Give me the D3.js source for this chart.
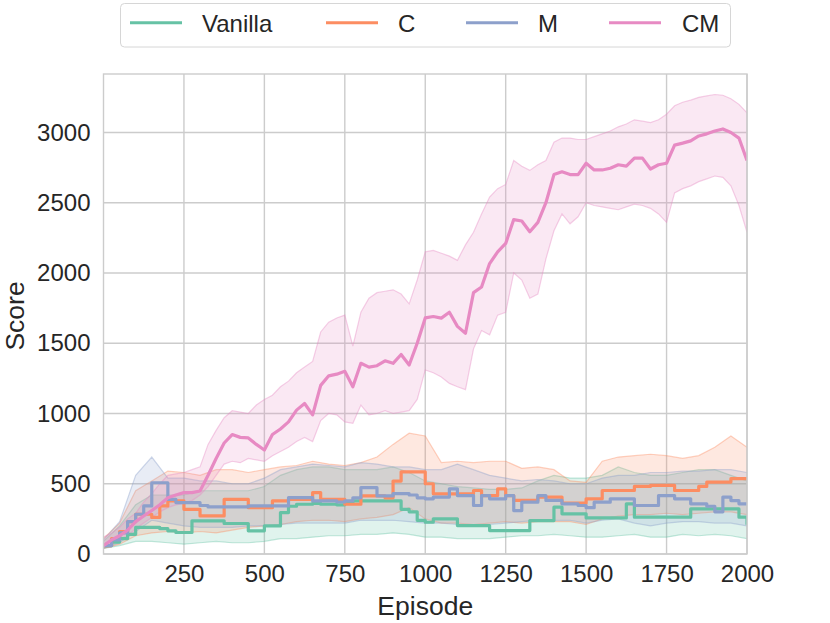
<!DOCTYPE html>
<html>
<head>
<meta charset="utf-8">
<script src="https://cdn.jsdelivr.net/npm/d3@7"></script>
<style>
  html, body { margin: 0; padding: 0; background: #ffffff; }
  svg { display: block; font-family: "Liberation Sans", Arial, sans-serif; }
</style>
</head>
<body>
<svg id="chart" width="830" height="623"></svg>
<script>
// ---------------- DATA ----------------
const seriesNames = ["Vanilla", "C", "M", "CM"];
const xTicks = [250, 500, 750, 1000, 1250, 1500, 1750, 2000];
const yTicks = [0, 500, 1000, 1500, 2000, 2500, 3000];

// episodes for mean lines (every 25)
const episodes = d3.range(0, 2001, 25);
// episodes for Vanilla / C / M bands (every 50)
const bandEpisodes = d3.range(0, 2001, 50);

const vanillaMean = [60,85,110,140,189,189,189,180,165,153,153,236,236,236,236,217,217,217,165,165,
  200,200,295,340,354,354,360,354,354,350,360,378,378,378,378,378,378,318,300,240,
  226,250,250,250,202,202,202,202,167,167,167,167,167,238,238,238,333,286,286,286,
  257,257,257,257,257,357,262,262,262,262,262,262,262,321,321,321,321,321,321,262,209];
const cMean = [60,110,160,230,283,283,260,342,378,378,318,318,271,271,271,389,389,389,330,330,
  330,378,378,389,389,389,437,389,389,389,354,354,413,413,413,400,519,585,585,585,
  500,428,428,428,428,428,452,416,416,464,416,381,381,381,405,405,405,362,362,362,
  393,393,452,452,452,452,481,481,488,488,488,452,452,452,481,512,512,512,536,536,536];
const mMean = [60,100,150,230,283,342,507,507,389,366,366,366,345,335,335,335,335,335,342,342,
  342,342,342,401,401,401,378,378,378,370,378,400,472,472,413,413,430,430,420,400,
  393,405,405,464,416,416,345,416,393,393,416,309,369,369,416,381,381,357,357,345,
  330,369,369,393,393,393,345,345,345,416,416,393,393,357,357,340,300,405,380,357,357];
const cmMean = [60,100,130,170,230,270,310,350,400,420,437,437,448,560,680,790,850,830,826,780,
  740,850,890,940,1024,1071,990,1200,1268,1280,1300,1190,1357,1330,1340,1375,1357,1420,1345,1500,
  1680,1690,1679,1720,1620,1571,1860,1900,2067,2150,2210,2380,2370,2293,2360,2500,2700,2720,2700,2700,
  2781,2733,2733,2745,2770,2760,2817,2817,2740,2770,2781,2910,2924,2940,2975,2990,3010,3025,3000,2960,2800];

const cmUpper = [120,150,190,250,290,370,430,500,560,570,580,600,620,780,880,970,1020,1010,1000,1060,
  1100,1130,1190,1230,1290,1330,1370,1580,1650,1680,1700,1480,1720,1820,1860,1870,1880,1850,1780,1950,
  2150,2160,2140,2120,2090,2200,2290,2420,2540,2600,2630,2800,2760,2730,2770,2800,2930,2960,2960,2950,
  2950,2970,2990,3010,3040,3060,3090,3080,3070,3090,3130,3190,3215,3230,3250,3260,3270,3265,3240,3200,3140];
const cmLower = [50,70,100,130,180,220,260,300,330,350,360,380,420,480,560,640,660,650,680,670,
  660,700,730,760,800,830,800,950,1000,990,940,930,1060,990,1000,1020,1000,1010,1020,1100,
  1310,1290,1260,1214,1190,1170,1460,1590,1560,1700,1720,2000,1950,1820,1850,2100,2300,2420,2350,2400,
  2500,2480,2470,2460,2450,2470,2490,2480,2460,2420,2360,2570,2600,2620,2650,2670,2690,2680,2620,2480,2290];

const vanillaUpper = [90,200,350,420,420,420,450,450,450,450,480,560,600,620,620,600,600,600,620,580,
  520,500,480,470,460,460,470,520,560,540,540,560,620,580,560,560,580,600,600,560,520];
const vanillaLower = [40,60,90,90,80,70,80,90,80,80,90,110,110,120,130,130,140,140,150,140,
  120,120,110,110,110,120,130,130,140,130,120,120,130,140,120,120,140,130,140,130,110];
const cUpper = [110,220,450,520,590,580,560,600,600,580,600,620,630,660,640,630,650,690,780,860,
  840,650,660,650,660,660,610,620,600,520,510,660,690,700,710,700,680,700,760,840,760];
const cLower = [40,70,130,150,160,150,160,150,170,190,200,210,230,240,240,230,250,260,280,330,
  250,220,220,210,220,230,220,230,230,230,210,250,270,280,280,290,280,290,300,300,280];
const mUpper = [100,230,560,690,540,540,520,520,500,500,540,600,620,640,630,620,650,640,620,620,
  600,600,640,600,560,540,520,530,520,500,500,540,560,560,580,580,590,590,600,600,580];
const mLower = [40,80,160,240,220,200,190,190,190,200,200,210,220,220,220,220,240,240,240,230,
  220,220,210,200,210,220,230,240,240,240,220,240,250,220,200,220,230,230,220,220,200];

const colors = ["#66c2a5", "#fc8d62", "#8da0cb", "#e78ac3"];

// ---------------- LAYOUT ----------------
const svg = d3.select("#chart");
const pL = 103.5, pR = 747, pT = 74, pB = 554;

const x = d3.scaleLinear().domain([0, 2000]).range([pL, pR]);
const y = d3.scaleLinear().domain([0, 3416]).range([pB, pT]);

const gridColor = "#cccccc";
const textColor = "#262626";

// grid
const grid = svg.append("g");
grid.selectAll("line.gx").data(xTicks).join("line")
  .attr("x1", d => x(d)).attr("x2", d => x(d))
  .attr("y1", pT).attr("y2", pB)
  .attr("stroke", gridColor).attr("stroke-width", 1.4);
grid.selectAll("line.gy").data(yTicks).join("line")
  .attr("x1", pL).attr("x2", pR)
  .attr("y1", d => y(d)).attr("y2", d => y(d))
  .attr("stroke", gridColor).attr("stroke-width", 1.4);

// clip
svg.append("clipPath").attr("id", "clip").append("rect")
  .attr("x", pL).attr("y", pT).attr("width", pR - pL).attr("height", pB - pT);

const plot = svg.append("g").attr("clip-path", "url(#clip)");

const bands = [
  {eps: bandEpisodes, lo: vanillaLower, hi: vanillaUpper},
  {eps: bandEpisodes, lo: cLower, hi: cUpper},
  {eps: bandEpisodes, lo: mLower, hi: mUpper},
  {eps: episodes, lo: cmLower, hi: cmUpper}
];
const means = [vanillaMean, cMean, mMean, cmMean];

bands.forEach((b, i) => {
  const pts = b.eps.map((e, k) => ({e, lo: b.lo[k], hi: b.hi[k]}));
  plot.append("path").datum(pts)
    .attr("d", d3.area().x(d => x(d.e)).y0(d => y(d.lo)).y1(d => y(d.hi)))
    .attr("fill", colors[i]).attr("fill-opacity", 0.2).attr("stroke", "none");
  ["lo", "hi"].forEach(key => {
    plot.append("path").datum(pts)
      .attr("d", d3.line().x(d => x(d.e)).y(d => y(d[key])))
      .attr("fill", "none").attr("stroke", colors[i])
      .attr("stroke-opacity", 0.4).attr("stroke-width", 1.2);
  });
});

means.forEach((m, i) => {
  const pts = episodes.map((e, k) => ({e, v: m[k]}));
  plot.append("path").datum(pts)
    .attr("d", d3.line().x(d => x(d.e)).y(d => y(d.v))
      .curve(i === 3 ? d3.curveLinear : d3.curveStepAfter))
    .attr("fill", "none").attr("stroke", colors[i])
    .attr("stroke-width", 3.2).attr("stroke-linejoin", "round");
});

// spines
svg.append("rect").attr("x", pL).attr("y", pT)
  .attr("width", pR - pL).attr("height", pB - pT)
  .attr("fill", "none").attr("stroke", gridColor).attr("stroke-width", 1.4);

// axes (no tick marks)
const xAxis = svg.append("g").attr("transform", `translate(0,${pB})`)
  .call(d3.axisBottom(x).tickValues(xTicks).tickSize(0).tickPadding(11).tickFormat(d3.format("d")));
const yAxis = svg.append("g").attr("transform", `translate(${pL},0)`)
  .call(d3.axisLeft(y).tickValues(yTicks).tickSize(0).tickPadding(13).tickFormat(d3.format("d")));
[xAxis, yAxis].forEach(a => {
  a.select(".domain").remove();
  a.selectAll("text").attr("font-size", 24).attr("fill", textColor)
    .attr("font-family", "Liberation Sans, Arial, sans-serif");
});

// axis labels
svg.append("text").attr("x", (pL + pR) / 2).attr("y", 615)
  .attr("text-anchor", "middle").attr("font-size", 26.5).attr("fill", textColor)
  .text("Episode");
svg.append("text").attr("transform", `translate(24,${(pT + pB) / 2 + 2}) rotate(-90)`)
  .attr("text-anchor", "middle").attr("font-size", 26.5).attr("fill", textColor)
  .text("Score");

// legend
const legend = svg.append("g");
legend.append("rect").attr("x", 120.5).attr("y", 3.5).attr("width", 610).attr("height", 43.5)
  .attr("rx", 4).attr("fill", "#ffffff").attr("fill-opacity", 0.8)
  .attr("stroke", "#d6d6d6").attr("stroke-width", 1);
const legendLineX = [130, 326, 466, 609];
const legendTextX = [202, 398, 538, 682];
seriesNames.forEach((name, i) => {
  legend.append("line").attr("x1", legendLineX[i]).attr("x2", legendLineX[i] + 52)
    .attr("y1", 22.7).attr("y2", 22.7).attr("stroke", colors[i]).attr("stroke-width", 3);
  legend.append("text").attr("x", legendTextX[i]).attr("y", 32)
    .attr("font-size", 24).attr("fill", textColor).text(name);
});
</script>
</body>
</html>
